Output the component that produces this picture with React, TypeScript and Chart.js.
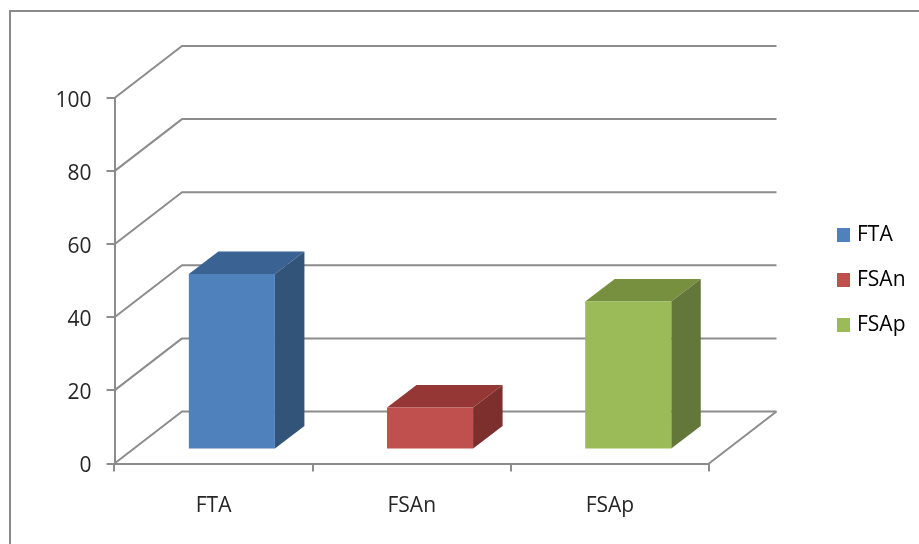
import React, { useEffect, useRef } from "react";
import { Chart, registerables } from "chart.js";

Chart.register(...registerables);

const categories = ["FTA", "FSAn", "FSAp"];
const values = [48, 11.5, 40.5];
const yMin = 0;
const yMax = 100;
const yStep = 20;

const frontColors = ["#4F81BD", "#C0504D", "#9BBB59"];
const topColors = ["#3A6293", "#953835", "#76903F"];
const sideColors = ["#325479", "#7C2F2D", "#64773A"];

const LINE = "#8C8C8C";
const TEXT = "#262626";
const FONT = "'Open Sans', sans-serif";
const WALL_DX = 67.5;
const WALL_DY = 52;
const BAR_DX = 18.3;
const BAR_DY = 14;
const SIDE_DX = 29.5;
const SIDE_DY = 22.5;

function swatch(color: string) {
  const c = document.createElement("canvas");
  c.width = 13;
  c.height = 14;
  const g = c.getContext("2d") as CanvasRenderingContext2D;
  g.fillStyle = color;
  g.fillRect(0, 0, 13, 14);
  return c;
}

const scene = {
  id: "scene",
  beforeDraw(chart: any) {
    const { ctx } = chart;
    ctx.save();
    ctx.strokeStyle = "#8A8A8A";
    ctx.lineWidth = 2;
    ctx.beginPath();
    ctx.moveTo(10, 544);
    ctx.lineTo(10, 11);
    ctx.lineTo(919, 11);
    ctx.stroke();
    ctx.restore();
  },
  afterLayout(chart: any) {
    const lg = chart.legend;
    lg.left = 815.5;
    lg.right = lg.left + lg.width;
    lg.top = 200.5;
    lg.bottom = lg.top + lg.height;
  },
  beforeDatasetsDraw(chart: any) {
    const { ctx, chartArea, scales } = chart;
    const { left, right } = chartArea;
    ctx.save();
    ctx.strokeStyle = LINE;
    ctx.lineWidth = 2;
    ctx.lineJoin = "round";
    for (const t of scales.y.ticks) {
      const y = scales.y.getPixelForValue(t.value);
      ctx.beginPath();
      ctx.moveTo(left, y);
      ctx.lineTo(left + WALL_DX, y - WALL_DY);
      ctx.lineTo(right + WALL_DX, y - WALL_DY);
      ctx.stroke();
    }
    const y0 = scales.y.getPixelForValue(yMin);
    ctx.beginPath();
    ctx.moveTo(right, y0);
    ctx.lineTo(right + WALL_DX, y0 - WALL_DY);
    ctx.stroke();
    ctx.restore();
  },
  beforeDatasetDraw(chart: any) {
    const { ctx } = chart;
    const els = chart.getDatasetMeta(0).data;
    ctx.save();
    ctx.translate(BAR_DX, -BAR_DY);
    els.forEach((el: any, i: number) => {
      const { x, y, base, width } = el.getProps(["x", "y", "base", "width"], true);
      const l = x - width / 2;
      const r = x + width / 2;
      ctx.fillStyle = topColors[i];
      ctx.beginPath();
      ctx.moveTo(l, y);
      ctx.lineTo(l + SIDE_DX, y - SIDE_DY);
      ctx.lineTo(r + SIDE_DX, y - SIDE_DY);
      ctx.lineTo(r, y);
      ctx.closePath();
      ctx.fill();
      ctx.fillStyle = sideColors[i];
      ctx.beginPath();
      ctx.moveTo(r, y);
      ctx.lineTo(r + SIDE_DX, y - SIDE_DY);
      ctx.lineTo(r + SIDE_DX, base - SIDE_DY);
      ctx.lineTo(r, base);
      ctx.closePath();
      ctx.fill();
    });
  },
  afterDatasetDraw(chart: any) {
    chart.ctx.restore();
  },
};

export default function App() {
  const ref = useRef<HTMLCanvasElement | null>(null);
  useEffect(() => {
    const chart = new Chart(ref.current as HTMLCanvasElement, {
      type: "bar",
      data: {
        labels: categories,
        datasets: [
          {
            label: "Series",
            data: values,
            backgroundColor: frontColors,
            borderWidth: 0,
            barPercentage: 86 / 198,
            categoryPercentage: 1,
          },
        ],
      },
      options: {
        responsive: false,
        animation: false,
        devicePixelRatio: 1,
        layout: { padding: { left: 0, top: 98, right: 210, bottom: 0 } },
        scales: {
          x: {
            afterFit: (s: any) => {
              s.height = 80.5;
            },
            grid: { drawOnChartArea: false, color: LINE, lineWidth: 2, tickLength: 8, offset: true },
            border: { color: LINE, width: 2 },
            ticks: { color: TEXT, font: { family: FONT, size: 21 }, padding: 22, maxRotation: 0 },
          },
          y: {
            min: yMin,
            max: yMax,
            afterFit: (s: any) => {
              s.width = 114.5;
            },
            grid: { drawOnChartArea: false, color: LINE, lineWidth: 2, tickLength: 8 },
            border: { color: LINE, width: 2 },
            ticks: { stepSize: yStep, color: TEXT, font: { family: FONT, size: 21 }, padding: 15, labelOffset: 3 } as any,
          },
        },
        plugins: {
          title: { display: false },
          tooltip: { enabled: false },
          legend: {
            position: "chartArea" as any,
            align: "start",
            labels: {
              usePointStyle: true,
              pointStyleWidth: 7,
              boxHeight: 13,
              padding: 24,
              color: TEXT,
              font: { family: FONT, size: 21 },
              generateLabels: () =>
                categories.map((c, i) => ({
                  text: c,
                  pointStyle: swatch(frontColors[i]),
                  fillStyle: frontColors[i],
                  strokeStyle: frontColors[i],
                  lineWidth: 0,
                  hidden: false,
                  index: i,
                  datasetIndex: 0,
                })),
            } as any,
          },
        },
      },
      plugins: [scene],
    });
    return () => chart.destroy();
  }, []);
  return (
    <div style={{ position: "fixed", left: 0, top: 0, width: 919, height: 544, background: "#fff" }}>
      <canvas ref={ref} width={919} height={544} style={{ display: "block", filter: "blur(0.4px)" }} />
    </div>
  );
}
